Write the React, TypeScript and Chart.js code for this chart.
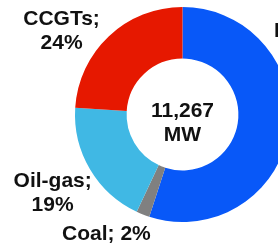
import React, { useEffect, useRef } from "react";
import { Chart, registerables } from "chart.js";

Chart.register(...registerables);

const categories = ["RES", "Coal", "Oil-gas", "CCGTs"];
const shares = [55, 2, 19, 24];
const totalLabel = ["11,267", "MW"];

const colors = ["#0858f8", "#808080", "#40b8e4", "#e61800"];
// label block anchor relative to centre, in units of outer radius
const labelAnchors = [
  [1.085, -0.676],
  [-0.708, 1.102],
  [-1.208, 0.718],
  [-1.125, -0.79],
];

const FONT = "bold 21px 'Liberation Sans', Arial, sans-serif";

const labelPlugin = {
  id: "labels",
  afterDraw(chart: any) {
    const ctx = chart.ctx;
    const meta = chart.getDatasetMeta(0);
    const arc0 = meta.data[0];
    const cx = arc0.x;
    const cy = arc0.y;
    const r = arc0.outerRadius;
    ctx.save();
    ctx.font = FONT;
    ctx.fillStyle = "#111111";
    ctx.textAlign = "center";
    ctx.textBaseline = "alphabetic";
    // centre text
    ctx.fillText(totalLabel[0], cx, cy + 2);
    ctx.fillText(totalLabel[1], cx, cy + 26);
    // slice labels
    categories.forEach((c, i) => {
      const [fx, fy] = labelAnchors[i];
      const ax = cx + r * fx;
      const ay = cy + r * fy;
      const pct = shares[i] + "%";
      if (i === 1) {
        ctx.fillText(c + "; " + pct, ax, ay + 7);
      } else {
        ctx.fillText(c + ";", ax, ay - 5);
        ctx.fillText(pct, ax, ay + 19);
      }
    });
    ctx.restore();
  },
};

export default function App() {
  const ref = useRef<HTMLCanvasElement | null>(null);
  useEffect(() => {
    if (!ref.current) return;
    const chart = new Chart(ref.current, {
      type: "doughnut",
      data: {
        labels: categories,
        datasets: [
          {
            data: shares,
            backgroundColor: colors,
            borderWidth: 0,
            hoverOffset: 0,
          },
        ],
      },
      options: {
        responsive: false,
        animation: false,
        cutout: "52%",
        rotation: 0,
        layout: { padding: { top: 7, bottom: 25, left: 7, right: 7 } },
        plugins: {
          legend: { display: false },
          tooltip: { enabled: false },
        },
        events: [],
      },
      plugins: [labelPlugin],
    });
    return () => chart.destroy();
  }, []);
  return (
    <div
      style={{
        position: "absolute",
        left: 0,
        top: 0,
        width: 278,
        height: 247,
        overflow: "hidden",
        background: "#fff",
      }}
    >
      <canvas ref={ref} width={365} height={247} style={{ display: "block" }} />
    </div>
  );
}
